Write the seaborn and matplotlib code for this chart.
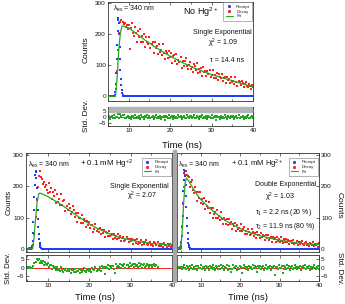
import numpy as np
import matplotlib
matplotlib.use("Agg")
import matplotlib.pyplot as plt
import seaborn as sns
from matplotlib.lines import Line2D
from matplotlib.patches import Rectangle
from matplotlib.ticker import MultipleLocator

# decay channels are 0.25 ns wide, prompt channels 0.1 ns
STEP = 0.25
T_END = 40.0
PROMPT_STEP = 0.1
PROMPT_FLOOR = 1.0

# ── panel A : no Hg2+ (single exponential) ────────────────────────────────────
a_t0 = 5.0
a_decay = [1, 0, 2, 1, 0, 1, 2, 4, 25, 80, 150, 205, 238, 246, 240, 232, 236, 222, 230, 215,
           230, 152, 220, 235, 202, 193, 222, 204, 176, 209,
           192, 217, 175, 193, 175, 199, 160, 190, 176, 168,
           191, 154, 169, 173, 139, 173, 154, 162, 136, 168,
           141, 150, 133, 168, 140, 120, 147, 139, 123, 145,
           125, 139, 108, 129, 133, 113, 137, 105, 116, 111,
           126, 90, 114, 98, 113, 124, 98, 88, 102, 109,
           87, 95, 78, 104, 96, 84, 108, 75, 87, 77,
           92, 66, 93, 78, 81, 64, 82, 71, 86, 62,
           68, 84, 59, 70, 60, 75, 52, 71, 62, 58,
           72, 50, 60, 62, 42, 63, 52, 57, 42, 61,
           45, 50, 41, 61, 45, 34, 50, 45, 36, 49,
           44, 31, 40, 46, 33, 29, 41, 34, 22, 36, 29]
a_prompt_t0 = 6.5
a_prompt = [0, 2, 5, 15, 40, 75, 120, 165, 210, 245, 252, 235, 200, 160, 120, 85,
            55, 35, 20, 10, 5, 3, 2, 1, 1, 0]
a_fit_t = [5, 6.8, 7.2, 7.6, 8.0, 8.4, 9, 10, 11, 12, 13, 14, 15, 16, 17, 18, 19, 20,
           21, 22, 23, 24, 25, 26, 27, 28, 29, 30, 31, 32, 33, 34, 35, 36, 37, 38, 39, 40]
a_fit = [0, 0, 60, 150, 205, 226, 225, 220, 210, 200, 190, 180, 171, 162, 153, 145, 137, 129,
         122, 115, 108, 102, 96, 90, 85, 80, 75, 70, 66, 62, 58, 54, 50, 46, 42, 38, 34, 30]
a_resid_t0 = 5.0
a_resid = [-0.3, 1.0, -1.5, 0.4, 0.9, -0.6, 1.6, -1.0, 0.1, -0.2,
           2.6, -1.2, 2.9, 1.2, 2.2, 1.8, -0.4, -1.2, 0.3, 1.1,
           -0.9, 0.0, -1.4, 1.2, 0.6, -0.5, 2.0, -1.1, 0.2, -0.7,
           0.9, -1.6, 1.4, -0.1, 0.4, -1.3, 0.8, -0.3, 1.5, -1.0,
           1.1, -0.8, 0.3, 0.8, -1.5, -0.1, 1.9, -0.9, 0.2, -0.6,
           1.3, -1.3, 0.5, -0.3, 1.0, -2.6, 0.7, 0.2, -1.1, 1.5,
           -0.4, 0.0, 0.9, -1.4, 1.2, -0.7, 0.4, -1.0, 1.7, -0.2,
           0.8, -1.6, 0.1, 1.1, -0.9, -0.5, 1.4, 0.3, -1.2, 0.6,
           0.6, -1.2, 0.3, 1.4, -0.5, -0.9, 1.1, 0.1, -1.6, 0.8,
           -0.2, 1.7, -1.0, 0.4, -0.7, 1.2, -1.4, 0.9, 0.0, -0.4,
           1.5, -1.1, 0.2, 0.7, -2.8, 1.0, -0.3, 0.5, -1.3, 1.3,
           -0.6, 0.2, -0.9, 1.9, -0.1, -1.5, 0.8, 0.3, -0.8, 1.1,
           -0.3, 1.0, -1.5, 0.4, 0.9, -0.6, 1.6, -1.0, 0.1, -0.2,
           1.3, -1.7, 0.5, -0.8, 0.7, 1.8, -0.4, -1.2, 0.3, 1.1, -0.9]

# ── panel B : + 0.1 mM Hg, single exponential ─────────────────────────────────
b_t0 = 5.0
b_decay = [1, 0, 2, 0, 1, 3, 12, 48, 102, 155, 198, 232, 248, 230, 222, 208, 214, 196, 203, 188,
           178, 210, 181, 193, 160, 180, 170, 187, 145, 174,
           150, 159, 139, 176, 141, 152, 157, 122, 137, 123,
           144, 131, 110, 117, 138, 123, 102, 114, 87, 116,
           97, 98, 84, 108, 84, 96, 89, 69, 90, 75,
           86, 67, 75, 77, 55, 65, 80, 56, 63, 55,
           68, 46, 59, 51, 60, 37, 55, 50, 40, 57,
           42, 44, 49, 32, 49, 35, 42, 31, 48, 35,
           40, 24, 34, 39, 26, 28, 38, 31, 21, 31,
           25, 32, 17, 27, 29, 20, 32, 17, 23, 20,
           28, 11, 23, 15, 23, 27, 16, 11, 19, 22,
           12, 16, 9, 21, 18, 12, 23, 9, 14, 10,
           16, 6, 18, 12, 13, 6, 14, 10, 16, 6, 12]
b_prompt_t0 = 5.8
b_prompt = [0, 1, 2, 4, 10, 25, 50, 85, 125, 165, 205, 235, 250, 245, 225, 195, 160, 125,
            95, 70, 48, 32, 20, 12, 7, 4, 2, 1, 1, 0, 0]
b_fit_t = [5, 6.3, 6.6, 7.0, 7.4, 7.8, 8.0, 8.5, 9, 10, 11, 12, 13, 14, 15, 16, 17, 18, 19,
           20, 21, 22, 23, 24, 25, 26, 27, 28, 29, 30, 31, 32, 33, 34, 35, 36, 37, 38, 39, 40]
b_fit = [0, 0, 30, 95, 150, 176, 178, 176, 173, 167, 159, 151, 143, 134, 125, 115, 106, 97, 88,
         80, 72, 65, 59, 53, 48, 43, 38, 34, 31, 28, 25, 23, 21, 19, 17, 16, 15, 14, 13, 12]
b_resid_t0 = 5.0
b_resid = [0.2, -0.3, 0.1, 0.4, -0.2, -0.3, 1.2, 2.6, 3.5, 5.1,
           4.3, 5.2, 3.0, 3.8, 2.6, 3.9, 1.5, 3.1, 2.2, 1.7,
           3.0, 0.6, 1.4, 1.5, -0.8, 1.1, -0.2, 0.2, -1.5, 0.3,
           -1.4, -0.8, -1.9, 0.2, -1.5, -2.7, -1.0, -1.4, -2.3, -0.9,
           -2.0, -1.0, -3.1, -1.6, -1.3, -2.5, -0.7, -2.8, -1.9, -2.2,
           -0.9, -3.3, -1.5, -2.5, -1.2, -0.3, -2.0, -2.6, -1.4, -0.7,
           -2.2, -1.4, -2.4, -0.2, -0.6, -1.4, 0.6, -1.8, -0.6, -1.3,
           0.1, -1.8, 0.7, -0.4, 0.1, -3.8, 0.6, -0.1, 1.3, -0.6,
           1.2, -0.2, 0.7, 1.1, -0.6, -3.5, 2.3, 0.1, 1.1, 0.5,
           2.0, 0.0, 1.5, 0.9, 2.0, -0.3, 1.8, 1.4, 0.4, 2.5,
           1.0, 1.3, 2.0, 0.2, 2.3, 0.7, 1.6, 0.5, 2.7, 1.1,
           1.9, 0.0, 1.4, 2.2, 0.6, 0.9, 2.4, 1.5, 0.3, 1.8,
           1.7, 0.2, 1.4, 2.3, 0.8, 1.8, 0.4]

# ── panel C : + 0.1 mM Hg, double exponential ─────────────────────────────────
c_t0 = 4.0
c_decay = [1, 0, 2, 5, 22, 72, 142, 198, 236, 250, 236, 232,
           230, 198, 212, 221, 188, 177, 199, 180, 152, 180,
           162, 183, 145, 159, 142, 162, 127, 152, 138, 130,
           150, 116, 129, 132, 100, 130, 112, 119, 97, 123,
           99, 106, 92, 118, 95, 79, 100, 93, 80, 96,
           75, 96, 78, 86, 65, 79, 73, 84, 58, 77,
           62, 68, 56, 79, 58, 65, 69, 47, 56, 48,
           62, 55, 44, 48, 63, 54, 42, 51, 34, 54,
           43, 44, 36, 51, 37, 45, 41, 29, 44, 35,
           45, 29, 36, 38, 23, 38, 30, 34, 23, 37,
           26, 30, 23, 38, 26, 18, 30, 27, 21, 30,
           22, 29, 15, 25, 26, 18, 29, 16, 20, 19,
           25, 11, 21, 14, 21, 25, 15, 12, 18, 21,
           12, 16, 10, 20, 17, 13, 22, 10, 15, 11,
           17, 7, 18]
c_prompt_t0 = 4.7
c_prompt = [0, 1, 3, 8, 20, 40, 70, 105, 145, 185, 220, 242, 252, 248, 232, 205, 170, 135,
            100, 72, 50, 33, 20, 12, 7, 4, 2, 1, 1, 0, 0]
c_fit_t = [4, 4.9, 5.3, 5.7, 6.1, 6.4, 6.8, 7.0, 7.5, 8, 8.5, 9, 9.5, 10, 11, 12, 13, 14, 15,
           16, 17, 18, 19, 20, 21, 22, 23, 24, 25, 26, 27, 28, 29, 30, 31, 32, 33, 34, 35,
           36, 37, 38, 39, 40]
c_fit = [0, 0, 50, 150, 215, 226, 220, 216, 205, 195, 185, 175, 166, 158, 145, 133, 122, 112,
         102, 93, 85, 78, 71, 65, 59, 54, 50, 46, 42, 39, 36, 33, 30.5, 28, 26, 24, 22, 20,
         18.5, 17, 16, 15, 14, 13]
c_resid_t0 = 4.0
c_resid = [0.2, -0.3, 0.1, 0.3,
           0.5, -1.1, 0.3, 1.3, -0.5, -0.8, 1.0, 0.1, -1.4, 0.7,
           -0.2, 1.5, -0.9, 0.4, -0.6, 1.1, -1.3, 0.8, 0.0, -0.4,
           1.4, -1.0, 0.2, 0.6, -1.6, 0.9, -0.3, 0.5, -1.2, 1.2,
           -0.5, 0.2, -0.8, 1.7, -0.1, -1.4, 0.7, 0.3, -0.7, 1.0,
           -0.9, 1.4, -0.3, 0.7, -1.2, 0.4, -0.1, 1.3, -1.4, 0.8,
           -0.6, -2.7, -1.0, 1.8, -0.5, 0.5, 1.1, -1.3, 0.0, -0.8,
           1.0, 0.3, -3.2, -0.4, 1.6, 0.6, -0.7, 0.5, -1.5, 1.2,
           -0.2, 0.1, -0.9, 1.4, -0.5, 0.8, 0.4, -2.9, 0.9, -0.3,
           1.0, -0.7, 0.3, 0.7, -1.4, -0.1, 1.7, -0.8, 0.2, -0.5,
           1.2, -1.2, 0.5, -0.3, 0.9, -4.6, 0.6, 0.2, -1.0, 1.4,
           -0.4, 0.0, 0.8, -3.4, 1.1, -0.6, 0.4, -0.9, 1.5, -0.2,
           0.7, -1.4, 0.1, 1.0, -0.8, -0.5, 1.3, 0.3, -1.1, 0.5,
           -0.3, 0.9, -1.4, 0.4, 0.8, -0.5, 1.4, -0.9, 0.1, -0.2,
           1.2, -1.5, 0.5, -0.7, 0.6, 1.6, -0.4, -1.1, 0.3, 1.0,
           -0.8]

BLUE = "#1f3dff"
RED = "#ff2020"
GREEN = "#22a822"
EDGE = "#333333"
GRAY = "#b4b4b4"

sns.set_theme(style="ticks")
plt.rcParams["font.family"] = ["Liberation Sans", "DejaVu Sans"]
plt.rcParams["mathtext.fontset"] = "custom"
plt.rcParams["mathtext.rm"] = "Liberation Sans"
plt.rcParams["mathtext.it"] = "Liberation Sans:italic"

W, H = 345, 304
fig = plt.figure(figsize=(W / 100, H / 100), dpi=100)


def frame(l, r, t, b):
    return [l / W, 1 - b / H, (r - l) / W, (b - t) / H]


def ftext(x, y, s, size, **kw):
    fig.text(x / W, 1 - y / H, s, fontsize=size, color="#111111", va="center", **kw)


def panel(main_box, res_box, xlim, ylim, res_ylim, t0, decay, p_t0, prompt,
          fit_t, fit, r_t0, resid, anchor, right=False):
    ax = fig.add_axes(frame(*main_box))
    rax = fig.add_axes(frame(*res_box))

    t = t0 + STEP * np.arange(len(decay))
    n_p = int(round((T_END - xlim[0]) / PROMPT_STEP)) + 1
    pt = xlim[0] + PROMPT_STEP * np.arange(n_p)
    pc = np.full(n_p, PROMPT_FLOOR)
    k = int(round((p_t0 - xlim[0]) / PROMPT_STEP))
    pc[k:k + len(prompt)] = prompt

    sns.scatterplot(x=t, y=decay, ax=ax, color=RED, marker="s", s=3.8, linewidth=0, zorder=2)
    sns.scatterplot(x=pt, y=pc, ax=ax, color=BLUE, marker="s", s=2.4, linewidth=0, zorder=3)
    sns.lineplot(x=fit_t, y=fit, ax=ax, color=GREEN, lw=0.9, sort=False, estimator=None, zorder=4)

    rt = r_t0 + STEP * np.arange(len(resid))
    rax.axhline(0, color=RED, lw=0.7, zorder=1)
    sns.scatterplot(x=rt, y=resid, ax=rax, color=GREEN, marker="s", s=3.0, linewidth=0, zorder=2)

    for a in (ax, rax):
        a.set_xlim(*xlim)
        a.set_xlabel("")
        a.set_ylabel("")
        a.xaxis.set_major_locator(MultipleLocator(10))
        a.xaxis.set_minor_locator(MultipleLocator(5))
        a.tick_params(which="both", direction="in", top=True, color=EDGE, width=0.5,
                      labelsize=4.6, pad=1.5, labelcolor="#111111")
        a.tick_params(which="major", length=2.2)
        a.tick_params(which="minor", length=1.3)
        for sp in a.spines.values():
            sp.set_color(EDGE)
            sp.set_linewidth(0.6)
        if right:
            a.yaxis.tick_right()
    ax.tick_params(labelbottom=False)
    ax.set_ylim(*ylim)
    ax.set_yticks([0, 100, 200, 300])
    rax.set_ylim(*res_ylim)
    rax.set_yticks([-5, 0, 5])

    handles = [Line2D([], [], ls="", marker="s", ms=1.1, color=BLUE, label="Prompt"),
               Line2D([], [], ls="", marker="s", ms=1.1, color=RED, label="Decay"),
               Line2D([], [], color=GREEN, lw=0.8, label="Fit")]
    leg = ax.legend(handles=handles, loc="upper right", bbox_to_anchor=anchor, fontsize=3.2,
                    frameon=True, fancybox=False, edgecolor="#777777", borderpad=0.5,
                    labelspacing=0.15, handlelength=1.6, handletextpad=0.8, borderaxespad=0)
    leg.get_frame().set_linewidth(0.5)
    return ax, rax


# top panel
panel((108, 253, 2, 101), (108, 253, 107, 126), (5, 40), (-15, 303), (-8, 9),
      a_t0, a_decay, a_prompt_t0, a_prompt, a_fit_t, a_fit, a_resid_t0, a_resid,
      (0.995, 0.995))
fig.add_artist(Rectangle((108.5 / W, 1 - 111.5 / H), 144 / W, 4 / H,
                         transform=fig.transFigure, color=GRAY, zorder=5))

# bottom left
panel((26, 172, 153, 252), (26, 172, 255, 281), (4.7, 40), (-10, 306), (-8, 7.5),
      b_t0, b_decay, b_prompt_t0, b_prompt, b_fit_t, b_fit, b_resid_t0, b_resid,
      (0.99, 0.95))

# bottom right
panel((177, 319, 153, 252), (177, 319, 255, 281), (4, 40), (-10, 306), (-8, 7.5),
      c_t0, c_decay, c_prompt_t0, c_prompt, c_fit_t, c_fit, c_resid_t0, c_resid,
      (0.99, 0.95), right=True)
fig.add_artist(Rectangle((172.5 / W, 1 - 282 / H), 3.5 / W, 132 / H,
                         transform=fig.transFigure, color="#a8a8a8", zorder=5))

# axis labels
ftext(86, 50, "Counts", 6, rotation=90, ha="center")
ftext(86, 116, "Std. Dev.", 5.8, rotation=90, ha="center")
ftext(182, 145, "Time (ns)", 6.8, ha="center")
ftext(9, 202, "Counts", 5.8, rotation=90, ha="center")
ftext(9, 268, "Std. Dev.", 5.6, rotation=90, ha="center")
ftext(95, 298, "Time (ns)", 6.8, ha="center")
ftext(339, 205, "Counts", 6, rotation=270, ha="center")
ftext(339, 268, "Std. Dev.", 5.8, rotation=270, ha="center")
ftext(248, 298, "Time (ns)", 6.8, ha="center")

# annotations, top panel
ftext(113, 8.5, r"λ$_\mathrm{ex}$ = 340 nm", 5)
ftext(183, 12, r"No Hg$^\mathrm{2+}$", 6.5)
ftext(252, 32.5, "Single Exponential", 5, ha="right")
ftext(223, 43, r"χ$^\mathrm{2}$ = 1.09", 5, ha="center")
ftext(210, 61, "τ = 14.4 ns", 5)

# annotations, bottom left
ftext(28, 165, r"λ$_\mathrm{ex}$ = 340 nm", 5)
ftext(80, 164, r"+ 0.1 mM Hg$^\mathrm{+2}$", 5.7)
ftext(169, 186, "Single Exponential", 5, ha="right")
ftext(142, 196, r"χ$^\mathrm{2}$ = 2.07", 5, ha="center")

# annotations, bottom right
ftext(178, 165, r"λ$_\mathrm{ex}$ = 340 nm", 5)
ftext(231, 164, r"+ 0.1 mM Hg$^\mathrm{2+}$", 5.5)
ftext(316, 185, "Double Exponential", 5, ha="right")
ftext(280, 197, r"χ$^\mathrm{2}$ = 1.03", 5, ha="center")
ftext(255, 213, r"τ$_\mathrm{1}$ = 2.2 ns (20 %)", 5)
ftext(255, 226, r"τ$_\mathrm{2}$ = 11.9 ns (80 %)", 5)

fig.savefig("out.png", dpi=100)
